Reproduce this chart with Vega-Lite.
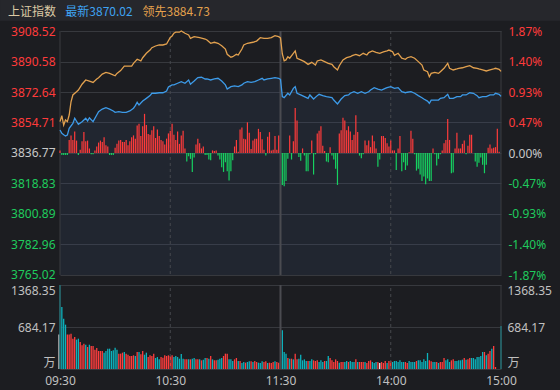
{
"$schema": "https://vega.github.io/schema/vega-lite/v6.json",
"width": 441,
"height": 338,
"autosize": {"type": "none"},
"padding": {"left": 60, "top": 31, "right": 59, "bottom": 21},
"background": "#1c1d21",
"config": {"view": {"stroke": null}, "scale": {"continuousPadding": 0}, "axis": {"labelFont": "Noto Sans, Noto Sans CJK SC", "labelFontSize": 12, "ticks": false, "domain": false, "gridColor": "#37393e"}},
"datasets": {
"lead": [{"m":0,"p":3855.2},{"m":1,"p":3858.7},{"m":2,"p":3853.2},{"m":3,"p":3856.2},{"m":4,"p":3855.2},{"m":5,"p":3859.1},{"m":6,"p":3866.9},{"m":7,"p":3870.9},{"m":9,"p":3872.8},{"m":10,"p":3873.8},{"m":12,"p":3877.2},{"m":14,"p":3879.7},{"m":16,"p":3879.1},{"m":18,"p":3878.3},{"m":20,"p":3880.3},{"m":21,"p":3881.0},{"m":23,"p":3883.2},{"m":25,"p":3884.2},{"m":27,"p":3883.6},{"m":30,"p":3882.2},{"m":31,"p":3883.6},{"m":33,"p":3885.2},{"m":35,"p":3887.9},{"m":37,"p":3887.9},{"m":39,"p":3887.9},{"m":40,"p":3889.5},{"m":42,"p":3891.9},{"m":44,"p":3890.9},{"m":45,"p":3892.8},{"m":47,"p":3895.4},{"m":49,"p":3897.3},{"m":50,"p":3898.7},{"m":52,"p":3899.7},{"m":54,"p":3900.3},{"m":56,"p":3900.3},{"m":58,"p":3900.9},{"m":60,"p":3904.7},{"m":61,"p":3905.6},{"m":62,"p":3907.2},{"m":63,"p":3907.8},{"m":65,"p":3907.8},{"m":66,"p":3908.5},{"m":68,"p":3907.2},{"m":70,"p":3906.2},{"m":71,"p":3904.2},{"m":73,"p":3905.2},{"m":76,"p":3904.6},{"m":79,"p":3903.8},{"m":80,"p":3903.2},{"m":82,"p":3901.3},{"m":84,"p":3901.9},{"m":86,"p":3901.3},{"m":88,"p":3899.9},{"m":90,"p":3897.9},{"m":91,"p":3894.8},{"m":93,"p":3893.1},{"m":94,"p":3893.4},{"m":96,"p":3894.8},{"m":97,"p":3894.4},{"m":99,"p":3897.9},{"m":100,"p":3900.3},{"m":102,"p":3901.3},{"m":105,"p":3901.9},{"m":107,"p":3902.6},{"m":109,"p":3904.6},{"m":111,"p":3904.2},{"m":113,"p":3904.2},{"m":115,"p":3904.6},{"m":117,"p":3905.8},{"m":119,"p":3905.2},{"m":120,"p":3904.5},{"m":121,"p":3895.0},{"m":122,"p":3891.0},{"m":123,"p":3891.5},{"m":124,"p":3893.4},{"m":125,"p":3892.5},{"m":127,"p":3895.4},{"m":128,"p":3896.8},{"m":129,"p":3892.5},{"m":131,"p":3891.5},{"m":133,"p":3890.5},{"m":135,"p":3888.9},{"m":137,"p":3890.1},{"m":139,"p":3888.5},{"m":140,"p":3890.9},{"m":142,"p":3891.5},{"m":144,"p":3890.5},{"m":146,"p":3889.5},{"m":148,"p":3888.9},{"m":149,"p":3887.5},{"m":151,"p":3885.6},{"m":152,"p":3888.1},{"m":154,"p":3891.5},{"m":156,"p":3892.8},{"m":158,"p":3893.4},{"m":159,"p":3894.0},{"m":161,"p":3894.8},{"m":163,"p":3894.0},{"m":165,"p":3895.4},{"m":167,"p":3894.4},{"m":168,"p":3895.8},{"m":170,"p":3896.8},{"m":172,"p":3896.0},{"m":174,"p":3895.4},{"m":176,"p":3896.3},{"m":178,"p":3896.8},{"m":179,"p":3897.3},{"m":181,"p":3896.3},{"m":182,"p":3894.2},{"m":184,"p":3895.4},{"m":186,"p":3892.5},{"m":188,"p":3891.9},{"m":189,"p":3892.8},{"m":191,"p":3893.4},{"m":193,"p":3892.5},{"m":195,"p":3890.5},{"m":197,"p":3888.5},{"m":198,"p":3885.6},{"m":200,"p":3884.6},{"m":201,"p":3881.6},{"m":202,"p":3883.6},{"m":204,"p":3884.2},{"m":206,"p":3883.6},{"m":207,"p":3884.6},{"m":209,"p":3886.6},{"m":211,"p":3889.5},{"m":212,"p":3886.6},{"m":214,"p":3885.6},{"m":216,"p":3886.2},{"m":217,"p":3886.6},{"m":219,"p":3886.9},{"m":221,"p":3887.5},{"m":223,"p":3888.1},{"m":225,"p":3886.9},{"m":227,"p":3886.6},{"m":228,"p":3886.2},{"m":230,"p":3885.6},{"m":232,"p":3885.0},{"m":234,"p":3885.6},{"m":236,"p":3886.2},{"m":237,"p":3886.6},{"m":239,"p":3886.0},{"m":240,"p":3884.73}],
"idx": [{"m":0,"p":3850.3},{"m":1,"p":3848.3},{"m":2,"p":3847.5},{"m":3,"p":3846.8},{"m":4,"p":3847.3},{"m":5,"p":3851.3},{"m":7,"p":3854.2},{"m":8,"p":3857.2},{"m":10,"p":3853.6},{"m":12,"p":3855.2},{"m":14,"p":3857.2},{"m":15,"p":3855.6},{"m":16,"p":3857.5},{"m":18,"p":3855.2},{"m":20,"p":3859.1},{"m":21,"p":3861.1},{"m":23,"p":3862.6},{"m":25,"p":3863.4},{"m":27,"p":3862.6},{"m":29,"p":3861.5},{"m":30,"p":3860.7},{"m":32,"p":3861.1},{"m":34,"p":3860.7},{"m":36,"p":3860.7},{"m":38,"p":3861.5},{"m":40,"p":3863.1},{"m":41,"p":3864.6},{"m":42,"p":3866.6},{"m":43,"p":3865.0},{"m":45,"p":3867.3},{"m":47,"p":3868.9},{"m":49,"p":3870.5},{"m":50,"p":3871.9},{"m":52,"p":3871.9},{"m":54,"p":3872.2},{"m":56,"p":3872.2},{"m":58,"p":3873.2},{"m":59,"p":3875.6},{"m":61,"p":3876.8},{"m":62,"p":3876.8},{"m":64,"p":3877.8},{"m":66,"p":3878.7},{"m":68,"p":3877.8},{"m":70,"p":3879.7},{"m":71,"p":3877.2},{"m":73,"p":3879.1},{"m":75,"p":3881.1},{"m":77,"p":3881.3},{"m":79,"p":3880.3},{"m":80,"p":3880.3},{"m":82,"p":3879.7},{"m":84,"p":3880.3},{"m":86,"p":3880.7},{"m":88,"p":3879.1},{"m":90,"p":3876.8},{"m":91,"p":3874.4},{"m":93,"p":3875.8},{"m":95,"p":3876.2},{"m":97,"p":3875.8},{"m":99,"p":3876.8},{"m":100,"p":3877.8},{"m":102,"p":3878.7},{"m":104,"p":3878.3},{"m":106,"p":3878.7},{"m":108,"p":3879.7},{"m":110,"p":3880.7},{"m":111,"p":3879.7},{"m":113,"p":3880.3},{"m":115,"p":3880.7},{"m":117,"p":3881.1},{"m":119,"p":3880.7},{"m":120,"p":3880.0},{"m":121,"p":3869.9},{"m":122,"p":3869.3},{"m":124,"p":3871.9},{"m":125,"p":3870.9},{"m":127,"p":3874.8},{"m":128,"p":3875.8},{"m":129,"p":3871.9},{"m":131,"p":3870.9},{"m":133,"p":3869.9},{"m":135,"p":3868.9},{"m":136,"p":3870.9},{"m":138,"p":3868.5},{"m":140,"p":3870.5},{"m":141,"p":3871.3},{"m":143,"p":3870.5},{"m":145,"p":3869.9},{"m":148,"p":3869.3},{"m":149,"p":3867.9},{"m":151,"p":3865.6},{"m":153,"p":3868.5},{"m":155,"p":3870.5},{"m":157,"p":3870.9},{"m":158,"p":3871.9},{"m":160,"p":3872.8},{"m":162,"p":3871.9},{"m":164,"p":3872.8},{"m":166,"p":3871.9},{"m":168,"p":3872.8},{"m":169,"p":3873.8},{"m":171,"p":3875.2},{"m":173,"p":3874.4},{"m":175,"p":3873.8},{"m":177,"p":3874.8},{"m":178,"p":3875.2},{"m":180,"p":3875.8},{"m":182,"p":3874.8},{"m":184,"p":3875.2},{"m":186,"p":3872.8},{"m":188,"p":3872.2},{"m":189,"p":3872.5},{"m":191,"p":3872.8},{"m":193,"p":3871.9},{"m":195,"p":3870.5},{"m":197,"p":3869.3},{"m":198,"p":3868.5},{"m":200,"p":3867.3},{"m":201,"p":3866.0},{"m":202,"p":3867.9},{"m":204,"p":3867.9},{"m":206,"p":3867.9},{"m":207,"p":3868.9},{"m":209,"p":3869.3},{"m":211,"p":3871.3},{"m":212,"p":3868.9},{"m":214,"p":3868.9},{"m":216,"p":3869.9},{"m":218,"p":3869.9},{"m":219,"p":3870.9},{"m":221,"p":3870.9},{"m":223,"p":3872.2},{"m":225,"p":3871.9},{"m":227,"p":3870.5},{"m":228,"p":3869.3},{"m":230,"p":3869.9},{"m":232,"p":3869.9},{"m":234,"p":3870.9},{"m":236,"p":3870.9},{"m":237,"p":3871.9},{"m":239,"p":3871.3},{"m":240,"p":3870.02}],
"str": [{"m":0,"q":0.04},{"m":1,"q":-0.03},{"m":2,"q":-0.03},{"m":3,"q":-0.03},{"m":4,"q":-0.03},{"m":5,"q":0.2},{"m":6,"q":0.27},{"m":7,"q":0.2},{"m":8,"q":0.33},{"m":9,"q":0.19},{"m":10,"q":-0.03},{"m":11,"q":0.05},{"m":12,"q":0.18},{"m":13,"q":0.32},{"m":14,"q":0.18},{"m":15,"q":0.19},{"m":16,"q":0.07},{"m":17,"q":-0.02},{"m":18,"q":-0.02},{"m":19,"q":0.04},{"m":20,"q":0.1},{"m":21,"q":0.16},{"m":22,"q":0.19},{"m":23,"q":0.17},{"m":24,"q":0.24},{"m":25,"q":0.12},{"m":26,"q":0.1},{"m":27,"q":-0.03},{"m":28,"q":-0.03},{"m":29,"q":-0.03},{"m":30,"q":0.08},{"m":31,"q":0.14},{"m":32,"q":0.19},{"m":33,"q":0.2},{"m":34,"q":0.17},{"m":35,"q":0.17},{"m":36,"q":0.2},{"m":37,"q":0.12},{"m":38,"q":0.18},{"m":39,"q":0.24},{"m":40,"q":0.27},{"m":41,"q":0.22},{"m":42,"q":0.42},{"m":43,"q":0.45},{"m":44,"q":0.26},{"m":45,"q":0.41},{"m":46,"q":0.6},{"m":47,"q":0.43},{"m":48,"q":0.29},{"m":49,"q":0.28},{"m":50,"q":0.35},{"m":51,"q":0.41},{"m":52,"q":0.23},{"m":53,"q":0.36},{"m":54,"q":0.26},{"m":55,"q":0.2},{"m":56,"q":0.18},{"m":57,"q":0.13},{"m":58,"q":0.22},{"m":59,"q":0.3},{"m":60,"q":0.34},{"m":61,"q":0.45},{"m":62,"q":0.28},{"m":63,"q":0.2},{"m":64,"q":0.33},{"m":65,"q":0.14},{"m":66,"q":0.27},{"m":67,"q":0.34},{"m":68,"q":0.07},{"m":69,"q":-0.13},{"m":70,"q":-0.05},{"m":71,"q":-0.09},{"m":72,"q":-0.29},{"m":73,"q":-0.07},{"m":74,"q":0.13},{"m":75,"q":0.22},{"m":76,"q":0.15},{"m":77,"q":0.07},{"m":78,"q":0.1},{"m":79,"q":-0.03},{"m":80,"q":-0.03},{"m":81,"q":-0.1},{"m":82,"q":-0.11},{"m":83,"q":0.04},{"m":84,"q":0.03},{"m":85,"q":0.04},{"m":86,"q":-0.04},{"m":87,"q":-0.1},{"m":88,"q":-0.22},{"m":89,"q":-0.29},{"m":90,"q":-0.14},{"m":91,"q":-0.28},{"m":92,"q":-0.42},{"m":93,"q":-0.28},{"m":94,"q":-0.11},{"m":95,"q":0.1},{"m":96,"q":0.2},{"m":97,"q":0.02},{"m":98,"q":0.36},{"m":99,"q":0.39},{"m":100,"q":0.22},{"m":101,"q":0.21},{"m":102,"q":0.47},{"m":103,"q":0.31},{"m":104,"q":0.06},{"m":105,"q":0.19},{"m":106,"q":0.22},{"m":107,"q":0.22},{"m":108,"q":0.37},{"m":109,"q":0.32},{"m":110,"q":0.21},{"m":111,"q":0.05},{"m":112,"q":-0.04},{"m":113,"q":0.25},{"m":114,"q":0.32},{"m":115,"q":0.04},{"m":116,"q":0.05},{"m":117,"q":0.26},{"m":118,"q":0.05},{"m":119,"q":0.27},{"m":121,"q":-0.49},{"m":122,"q":-0.51},{"m":123,"q":-0.43},{"m":124,"q":-0.09},{"m":125,"q":0.27},{"m":126,"q":-0.1},{"m":127,"q":0.18},{"m":128,"q":0.69},{"m":129,"q":0.5},{"m":130,"q":-0.06},{"m":131,"q":-0.12},{"m":132,"q":0.07},{"m":133,"q":-0.04},{"m":134,"q":-0.28},{"m":135,"q":-0.28},{"m":136,"q":-0.02},{"m":137,"q":0.19},{"m":138,"q":-0.33},{"m":139,"q":-0.02},{"m":140,"q":0.3},{"m":141,"q":0.34},{"m":142,"q":0.41},{"m":143,"q":0.11},{"m":144,"q":0.03},{"m":145,"q":-0.13},{"m":146,"q":-0.14},{"m":147,"q":0.09},{"m":148,"q":-0.04},{"m":149,"q":-0.1},{"m":150,"q":-0.24},{"m":151,"q":-0.49},{"m":152,"q":0.3},{"m":153,"q":0.35},{"m":154,"q":0.54},{"m":155,"q":0.5},{"m":156,"q":0.35},{"m":157,"q":0.41},{"m":158,"q":0.33},{"m":159,"q":0.2},{"m":160,"q":0.28},{"m":161,"q":0.58},{"m":162,"q":0.32},{"m":163,"q":-0.04},{"m":164,"q":-0.08},{"m":165,"q":-0.02},{"m":166,"q":0.19},{"m":167,"q":0.12},{"m":168,"q":0.19},{"m":169,"q":0.09},{"m":170,"q":0.27},{"m":171,"q":0.18},{"m":172,"q":0.07},{"m":173,"q":-0.21},{"m":174,"q":-0.1},{"m":175,"q":0.26},{"m":176,"q":0.26},{"m":177,"q":0.23},{"m":178,"q":0.15},{"m":179,"q":0.1},{"m":180,"q":0.19},{"m":181,"q":0.04},{"m":182,"q":0.04},{"m":183,"q":-0.26},{"m":184,"q":0.07},{"m":185,"q":0.26},{"m":186,"q":-0.28},{"m":187,"q":-0.14},{"m":188,"q":-0.26},{"m":189,"q":-0.19},{"m":190,"q":0.01},{"m":191,"q":0.34},{"m":192,"q":0.22},{"m":193,"q":-0.02},{"m":194,"q":-0.27},{"m":195,"q":-0.24},{"m":196,"q":-0.33},{"m":197,"q":-0.43},{"m":198,"q":-0.36},{"m":199,"q":-0.48},{"m":200,"q":-0.39},{"m":201,"q":-0.43},{"m":202,"q":-0.43},{"m":203,"q":0.07},{"m":204,"q":-0.02},{"m":205,"q":-0.19},{"m":206,"q":-0.09},{"m":207,"q":-0.02},{"m":208,"q":0.04},{"m":209,"q":0.15},{"m":210,"q":0.2},{"m":211,"q":0.52},{"m":212,"q":0.2},{"m":213,"q":-0.31},{"m":214,"q":-0.3},{"m":215,"q":0.07},{"m":216,"q":0.31},{"m":217,"q":0.07},{"m":218,"q":0.07},{"m":219,"q":0.14},{"m":220,"q":0.19},{"m":221,"q":-0.02},{"m":222,"q":0.11},{"m":223,"q":0.28},{"m":224,"q":0.28},{"m":226,"q":-0.13},{"m":227,"q":-0.21},{"m":228,"q":-0.15},{"m":229,"q":-0.07},{"m":230,"q":-0.18},{"m":231,"q":-0.31},{"m":232,"q":-0.18},{"m":233,"q":0.08},{"m":234,"q":0.13},{"m":235,"q":0.07},{"m":236,"q":0.08},{"m":237,"q":0.09},{"m":238,"q":0.37},{"m":239,"q":0.02}],
"vol": [{"m":-0.5,"v":560,"d":"f"},{"m":0,"v":1368,"d":"d"},{"m":1,"v":1010,"d":"d"},{"m":2,"v":820,"d":"d"},{"m":3,"v":722,"d":"d"},{"m":4,"v":560,"d":"u"},{"m":5,"v":560,"d":"u"},{"m":6,"v":575,"d":"u"},{"m":7,"v":494,"d":"u"},{"m":8,"v":521,"d":"u"},{"m":9,"v":478,"d":"d"},{"m":10,"v":494,"d":"d"},{"m":11,"v":440,"d":"u"},{"m":12,"v":386,"d":"u"},{"m":13,"v":413,"d":"u"},{"m":14,"v":396,"d":"d"},{"m":15,"v":358,"d":"u"},{"m":16,"v":396,"d":"d"},{"m":17,"v":375,"d":"u"},{"m":18,"v":375,"d":"u"},{"m":19,"v":315,"d":"u"},{"m":20,"v":342,"d":"u"},{"m":21,"v":293,"d":"u"},{"m":22,"v":293,"d":"u"},{"m":23,"v":293,"d":"u"},{"m":24,"v":266,"d":"d"},{"m":25,"v":293,"d":"d"},{"m":26,"v":331,"d":"d"},{"m":27,"v":331,"d":"d"},{"m":28,"v":293,"d":"d"},{"m":29,"v":304,"d":"d"},{"m":30,"v":348,"d":"d"},{"m":31,"v":315,"d":"d"},{"m":32,"v":250,"d":"u"},{"m":33,"v":250,"d":"u"},{"m":34,"v":266,"d":"u"},{"m":35,"v":277,"d":"d"},{"m":36,"v":250,"d":"u"},{"m":37,"v":233,"d":"u"},{"m":38,"v":212,"d":"u"},{"m":39,"v":212,"d":"u"},{"m":40,"v":223,"d":"u"},{"m":41,"v":212,"d":"d"},{"m":42,"v":277,"d":"u"},{"m":43,"v":277,"d":"d"},{"m":44,"v":239,"d":"u"},{"m":45,"v":293,"d":"u"},{"m":46,"v":233,"d":"d"},{"m":47,"v":266,"d":"d"},{"m":48,"v":195,"d":"u"},{"m":49,"v":223,"d":"u"},{"m":50,"v":212,"d":"u"},{"m":51,"v":250,"d":"u"},{"m":52,"v":179,"d":"d"},{"m":53,"v":195,"d":"d"},{"m":54,"v":157,"d":"d"},{"m":55,"v":195,"d":"u"},{"m":56,"v":185,"d":"u"},{"m":57,"v":223,"d":"u"},{"m":58,"v":212,"d":"u"},{"m":59,"v":223,"d":"u"},{"m":60,"v":212,"d":"u"},{"m":61,"v":223,"d":"u"},{"m":62,"v":195,"d":"d"},{"m":63,"v":212,"d":"d"},{"m":64,"v":195,"d":"d"},{"m":65,"v":168,"d":"d"},{"m":66,"v":244,"d":"d"},{"m":67,"v":168,"d":"d"},{"m":68,"v":157,"d":"u"},{"m":69,"v":157,"d":"u"},{"m":70,"v":157,"d":"d"},{"m":71,"v":157,"d":"u"},{"m":72,"v":168,"d":"d"},{"m":73,"v":179,"d":"d"},{"m":74,"v":157,"d":"u"},{"m":75,"v":157,"d":"u"},{"m":76,"v":157,"d":"d"},{"m":77,"v":141,"d":"u"},{"m":78,"v":152,"d":"d"},{"m":79,"v":179,"d":"d"},{"m":80,"v":179,"d":"u"},{"m":81,"v":168,"d":"d"},{"m":82,"v":212,"d":"u"},{"m":83,"v":157,"d":"d"},{"m":84,"v":141,"d":"u"},{"m":85,"v":141,"d":"u"},{"m":86,"v":152,"d":"d"},{"m":87,"v":168,"d":"d"},{"m":88,"v":179,"d":"d"},{"m":89,"v":212,"d":"u"},{"m":90,"v":250,"d":"u"},{"m":91,"v":250,"d":"u"},{"m":92,"v":157,"d":"d"},{"m":93,"v":157,"d":"d"},{"m":94,"v":130,"d":"d"},{"m":95,"v":157,"d":"u"},{"m":96,"v":179,"d":"u"},{"m":97,"v":130,"d":"d"},{"m":98,"v":130,"d":"u"},{"m":99,"v":98,"d":"d"},{"m":100,"v":114,"d":"d"},{"m":101,"v":103,"d":"u"},{"m":102,"v":114,"d":"d"},{"m":103,"v":125,"d":"d"},{"m":104,"v":125,"d":"u"},{"m":105,"v":114,"d":"d"},{"m":106,"v":130,"d":"u"},{"m":107,"v":114,"d":"u"},{"m":108,"v":103,"d":"d"},{"m":109,"v":98,"d":"d"},{"m":110,"v":125,"d":"d"},{"m":111,"v":114,"d":"u"},{"m":112,"v":125,"d":"u"},{"m":113,"v":98,"d":"d"},{"m":114,"v":103,"d":"u"},{"m":115,"v":98,"d":"u"},{"m":116,"v":114,"d":"u"},{"m":117,"v":125,"d":"d"},{"m":118,"v":114,"d":"u"},{"m":119,"v":103,"d":"u"},{"m":120,"v":136,"d":"d"},{"m":121,"v":630,"d":"d"},{"m":122,"v":277,"d":"d"},{"m":123,"v":250,"d":"d"},{"m":124,"v":179,"d":"u"},{"m":125,"v":168,"d":"d"},{"m":126,"v":168,"d":"u"},{"m":127,"v":157,"d":"d"},{"m":128,"v":250,"d":"u"},{"m":129,"v":157,"d":"u"},{"m":130,"v":168,"d":"d"},{"m":131,"v":233,"d":"d"},{"m":132,"v":141,"d":"d"},{"m":133,"v":157,"d":"d"},{"m":134,"v":130,"d":"d"},{"m":135,"v":130,"d":"u"},{"m":136,"v":130,"d":"d"},{"m":137,"v":157,"d":"d"},{"m":138,"v":141,"d":"u"},{"m":139,"v":130,"d":"u"},{"m":140,"v":141,"d":"u"},{"m":141,"v":114,"d":"d"},{"m":142,"v":141,"d":"d"},{"m":143,"v":114,"d":"d"},{"m":144,"v":130,"d":"u"},{"m":145,"v":130,"d":"d"},{"m":146,"v":212,"d":"d"},{"m":147,"v":179,"d":"u"},{"m":148,"v":141,"d":"u"},{"m":149,"v":114,"d":"u"},{"m":150,"v":157,"d":"u"},{"m":151,"v":130,"d":"u"},{"m":152,"v":103,"d":"d"},{"m":153,"v":114,"d":"u"},{"m":154,"v":114,"d":"u"},{"m":155,"v":114,"d":"d"},{"m":156,"v":130,"d":"d"},{"m":157,"v":114,"d":"u"},{"m":158,"v":130,"d":"d"},{"m":159,"v":114,"d":"d"},{"m":160,"v":114,"d":"d"},{"m":161,"v":157,"d":"u"},{"m":162,"v":114,"d":"d"},{"m":163,"v":114,"d":"u"},{"m":164,"v":114,"d":"u"},{"m":165,"v":114,"d":"u"},{"m":166,"v":114,"d":"d"},{"m":167,"v":98,"d":"u"},{"m":168,"v":130,"d":"u"},{"m":169,"v":141,"d":"u"},{"m":170,"v":114,"d":"d"},{"m":171,"v":98,"d":"d"},{"m":172,"v":114,"d":"d"},{"m":173,"v":114,"d":"u"},{"m":174,"v":98,"d":"f"},{"m":175,"v":114,"d":"u"},{"m":176,"v":98,"d":"u"},{"m":177,"v":130,"d":"u"},{"m":178,"v":98,"d":"d"},{"m":179,"v":130,"d":"u"},{"m":180,"v":130,"d":"u"},{"m":181,"v":114,"d":"d"},{"m":182,"v":130,"d":"d"},{"m":183,"v":130,"d":"d"},{"m":184,"v":114,"d":"d"},{"m":185,"v":141,"d":"d"},{"m":186,"v":114,"d":"d"},{"m":187,"v":114,"d":"d"},{"m":188,"v":114,"d":"u"},{"m":189,"v":98,"d":"u"},{"m":190,"v":130,"d":"d"},{"m":191,"v":114,"d":"d"},{"m":192,"v":114,"d":"d"},{"m":193,"v":114,"d":"d"},{"m":194,"v":130,"d":"u"},{"m":195,"v":141,"d":"d"},{"m":196,"v":141,"d":"d"},{"m":197,"v":114,"d":"d"},{"m":198,"v":157,"d":"d"},{"m":199,"v":130,"d":"d"},{"m":200,"v":261,"d":"d"},{"m":201,"v":141,"d":"u"},{"m":202,"v":125,"d":"u"},{"m":203,"v":114,"d":"d"},{"m":204,"v":114,"d":"d"},{"m":205,"v":114,"d":"u"},{"m":206,"v":98,"d":"d"},{"m":207,"v":114,"d":"u"},{"m":208,"v":114,"d":"u"},{"m":209,"v":179,"d":"u"},{"m":210,"v":141,"d":"d"},{"m":211,"v":157,"d":"d"},{"m":212,"v":114,"d":"d"},{"m":213,"v":141,"d":"u"},{"m":214,"v":157,"d":"u"},{"m":215,"v":130,"d":"d"},{"m":216,"v":130,"d":"d"},{"m":217,"v":141,"d":"d"},{"m":218,"v":141,"d":"d"},{"m":219,"v":152,"d":"d"},{"m":220,"v":179,"d":"u"},{"m":221,"v":152,"d":"d"},{"m":222,"v":157,"d":"u"},{"m":223,"v":179,"d":"u"},{"m":224,"v":179,"d":"d"},{"m":225,"v":179,"d":"d"},{"m":226,"v":157,"d":"d"},{"m":227,"v":195,"d":"d"},{"m":228,"v":195,"d":"d"},{"m":229,"v":212,"d":"d"},{"m":230,"v":277,"d":"d"},{"m":231,"v":277,"d":"u"},{"m":232,"v":223,"d":"d"},{"m":233,"v":250,"d":"u"},{"m":234,"v":293,"d":"u"},{"m":235,"v":331,"d":"d"},{"m":236,"v":375,"d":"u"},{"m":237,"v":33,"d":"u"},{"m":240,"v":700,"d":"d"}]
},
"layer": [
{
"layer": [
{"data": {"values": [{}]}, "mark": {"type": "rect", "color": "#26272c"},
 "encoding": {"x": {"datum": -32.65, "type": "quantitative", "axis": null}, "x2": {"datum": 272.11}, "y": {"datum": 3926.75, "type": "quantitative", "axis": null}, "y2": {"datum": 3914.57}}},
{"data": {"values": [{}]}, "mark": {"type": "text", "text": "上证指数", "align": "left", "baseline": "middle", "font": "Noto Sans CJK SC", "fontSize": 12, "color": "#dcc9a4"},
 "encoding": {"x": {"datum": -28.3, "type": "quantitative", "axis": null}, "y": {"datum": 3919.87, "type": "quantitative", "axis": null}}},
{"data": {"values": [{}]}, "mark": {"type": "text", "text": "最新3870.02", "align": "left", "baseline": "middle", "font": "Noto Sans CJK SC", "fontSize": 12, "color": "#3ea3f2"},
 "encoding": {"x": {"datum": 2.9, "type": "quantitative", "axis": null}, "y": {"datum": 3919.87, "type": "quantitative", "axis": null}}},
{"data": {"values": [{}]}, "mark": {"type": "text", "text": "领先3884.73", "align": "left", "baseline": "middle", "font": "Noto Sans CJK SC", "fontSize": 12, "color": "#e4a24d"},
 "encoding": {"x": {"datum": 44.9, "type": "quantitative", "axis": null}, "y": {"datum": 3919.87, "type": "quantitative", "axis": null}}},
{"data": {"name": "idx"}, "mark": {"type": "area", "color": "#3c5a80", "opacity": 0.16},
 "encoding": {
  "x": {"field": "m", "type": "quantitative", "scale": {"domain": [0, 240], "nice": false, "zero": false, "padding": 0}, "axis": null},
  "y": {"field": "p", "type": "quantitative", "scale": {"domain": [3709.71, 3908.52], "nice": false, "zero": false, "padding": 0},
        "axis": {"orient": "left", "title": null, "grid": true, "values": [3908.52, 3890.58, 3872.64, 3854.71, 3836.77, 3818.83, 3800.89, 3782.96, 3765.02], "labelExpr": "format(datum.value, '.2f')", "labelPadding": 5,
                 "labelColor": {"condition": [{"test": "datum.value > 3837", "value": "#ff3b3b"}, {"test": "datum.value < 3836", "value": "#1fcb5d"}], "value": "#c8c8c8"}}},
  "y2": {"datum": 3765.02}}},
{"data": {"values": [{"m": 0}, {"m": 240}]}, "mark": {"type": "rule", "color": "#3a3c41", "strokeWidth": 1},
 "encoding": {"x": {"field": "m", "type": "quantitative", "axis": null}, "y": {"datum": 3908.52, "type": "quantitative", "axis": null}, "y2": {"datum": 3765.02}}},
{"data": {"values": [{"m": 60}, {"m": 180}]}, "mark": {"type": "rule", "color": "#46484d", "strokeWidth": 1, "strokeDash": [3, 3]},
 "encoding": {"x": {"field": "m", "type": "quantitative", "axis": null}, "y": {"datum": 3908.52, "type": "quantitative", "axis": null}, "y2": {"datum": 3765.02}}},
{"data": {"values": [{"m": 120}]}, "mark": {"type": "rule", "color": "#4a4b50", "strokeWidth": 2},
 "encoding": {"x": {"field": "m", "type": "quantitative", "axis": null}, "y": {"datum": 3908.52, "type": "quantitative", "axis": null}, "y2": {"datum": 3765.02}}}
],
"resolve": {"axis": {"x": "independent", "y": "independent"}}
},
{"data": {"name": "str"}, "mark": {"type": "bar", "width": 1.2},
 "encoding": {
  "x": {"field": "m", "type": "quantitative", "scale": {"domain": [0, 240], "nice": false, "zero": false, "padding": 0}, "axis": null},
  "y": {"field": "q", "type": "quantitative", "scale": {"domain": [-3.3108, 1.87], "nice": false, "zero": false, "padding": 0},
        "axis": {"orient": "right", "title": null, "grid": false, "values": [1.87, 1.4, 0.93, 0.47, 0, -0.47, -0.93, -1.4, -1.87], "labelExpr": "(datum.value < 0 ? '-' : '') + format(abs(datum.value), '.2f') + '%'", "labelPadding": 7,
                 "labelColor": {"condition": [{"test": "datum.value > 0.001", "value": "#ff3b3b"}, {"test": "datum.value < -0.001", "value": "#1fcb5d"}], "value": "#c8c8c8"}}},
  "y2": {"datum": 0},
  "color": {"condition": {"test": "datum.q < 0", "value": "#16d160"}, "value": "#ff3b3b"}}},
{
"layer": [
{"data": {"name": "vol"}, "mark": {"type": "bar", "width": 1.3},
 "encoding": {
  "x": {"field": "m", "type": "quantitative", "scale": {"domain": [0, 240], "nice": false, "zero": false, "padding": 0},
        "axis": {"orient": "bottom", "title": null, "grid": false, "values": [0, 60, 120, 180, 240], "labelFlush": false, "labelPadding": 6, "labelColor": "#c0c0c0",
                 "labelExpr": "datum.value == 0 ? '09:30' : datum.value == 60 ? '10:30' : datum.value == 120 ? '11:30' : datum.value == 180 ? '14:00' : '15:00'"}},
  "y": {"field": "v", "type": "quantitative", "scale": {"domain": [0, 5506], "nice": false, "zero": false, "padding": 0},
        "axis": {"orient": "left", "title": null, "grid": true, "values": [0, 684.17, 1368.35], "labelFlush": true, "labelPadding": 5, "labelColor": "#c0c0c0",
                 "labelOffset": {"condition": {"test": "datum.value > 1000", "value": 5}, "value": 0},
                 "labelExpr": "datum.value == 0 ? '万' : format(datum.value, '.2f')"}},
  "color": {"field": "d", "type": "nominal", "scale": {"domain": ["u", "d", "f"], "range": ["#ff3d3d", "#0cb3bd", "#f0f0f0"]}, "legend": null}}},
{"data": {"values": [{"m": 0}, {"m": 240}]}, "mark": {"type": "rule", "color": "#3a3c41", "strokeWidth": 1},
 "encoding": {"x": {"field": "m", "type": "quantitative", "axis": null},
  "y": {"datum": 0, "type": "quantitative",
        "axis": {"orient": "right", "title": null, "grid": false, "values": [0, 684.17, 1368.35], "labelFlush": true, "labelPadding": 6, "labelColor": "#c0c0c0",
                 "labelOffset": {"condition": {"test": "datum.value > 1000", "value": 5}, "value": 0},
                 "labelExpr": "datum.value == 0 ? '万' : format(datum.value, '.2f')"}},
  "y2": {"datum": 1368.35}}},
{"data": {"values": [{"m": 60}, {"m": 180}]}, "mark": {"type": "rule", "color": "#46484d", "strokeWidth": 1, "strokeDash": [3, 3]},
 "encoding": {"x": {"field": "m", "type": "quantitative", "axis": null}, "y": {"datum": 0, "type": "quantitative", "axis": null}, "y2": {"datum": 1368.35}}},
{"data": {"values": [{"m": 120}]}, "mark": {"type": "rule", "color": "#4a4b50", "strokeWidth": 2},
 "encoding": {"x": {"field": "m", "type": "quantitative", "axis": null}, "y": {"datum": 0, "type": "quantitative", "axis": null}, "y2": {"datum": 1368.35}}}
],
"resolve": {"axis": {"x": "independent", "y": "independent"}}
},
{
"layer": [
{"data": {"name": "lead"}, "mark": {"type": "line", "color": "#e2a14f", "strokeWidth": 1.3},
 "encoding": {"x": {"field": "m", "type": "quantitative", "scale": {"domain": [0, 240], "nice": false, "zero": false, "padding": 0}, "axis": null},
  "y": {"field": "p", "type": "quantitative", "scale": {"domain": [3709.71, 3908.52], "nice": false, "zero": false, "padding": 0}, "axis": null}}},
{"data": {"name": "idx"}, "mark": {"type": "line", "color": "#3d9be9", "strokeWidth": 1.3},
 "encoding": {"x": {"field": "m", "type": "quantitative", "axis": null},
  "y": {"field": "p", "type": "quantitative", "axis": null}}}
],
"resolve": {"axis": {"x": "independent", "y": "independent"}}
}
],
"resolve": {"scale": {"y": "independent"}, "axis": {"x": "independent", "y": "independent"}}
}
